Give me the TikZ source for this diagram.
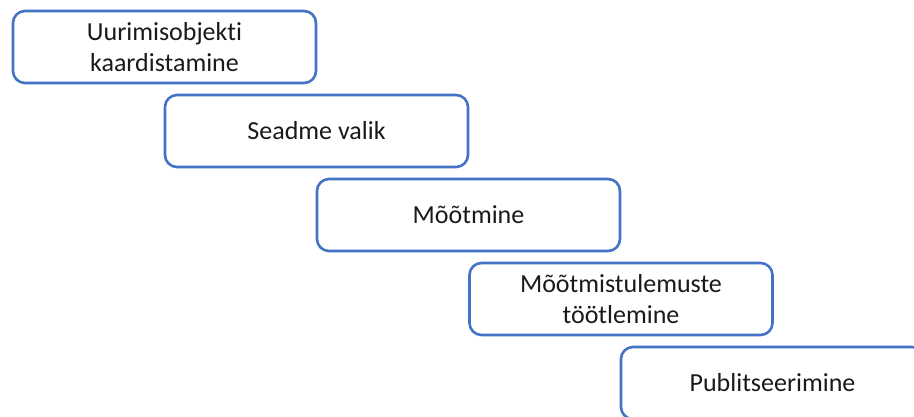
\documentclass[tikz,border=0pt]{standalone}
\usepackage{fontspec}
\setmainfont{Carlito}[RawFeature={-liga;-clig;-dlig}]
\definecolor{boxblue}{HTML}{4472C4}
\definecolor{txt}{HTML}{1A1A1A}
\begin{document}
\begin{tikzpicture}[x=1pt,y=-1pt,
  stepbox/.style={draw=boxblue, line width=2.6pt, rounded corners=12pt, fill=white,
    minimum width=303pt, minimum height=72pt, inner sep=0pt, align=center,
    text=txt, font=\fontsize{26}{31}\selectfont}]
\useasboundingbox (0,0) rectangle (914,417);
\clip (0,0) rectangle (914,417);
\node[stepbox] (s1) at (164.5,47) {Uurimisobjekti\\kaardistamine};
\node[stepbox] (s2) at (316.5,131) {Seadme valik};
\node[stepbox] (s3) at (468.5,215) {Mõõtmine};
\node[stepbox] (s4) at (621,299) {Mõõtmistulemuste\\töötlemine};
\node[stepbox] (s5) at (772.5,383) {Publitseerimine};
\end{tikzpicture}
\end{document}
